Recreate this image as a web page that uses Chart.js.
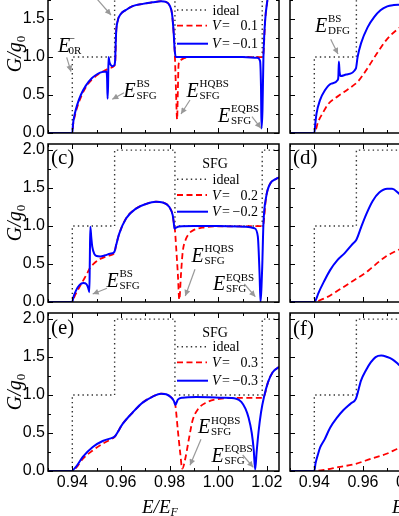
<!DOCTYPE html>
<html>
<head>
<meta charset="utf-8">
<script src="https://cdn.jsdelivr.net/npm/chart.js@4.4.0/dist/chart.umd.min.js"></script>
<style>
  html, body { margin: 0; padding: 0; background: #fff; }
  body { position: relative; width: 399px; height: 516px; overflow: hidden; }
  canvas { position: absolute; }
  #ov { position: absolute; left: 0; top: 0; pointer-events: none; }
  #ov text { font-family: "Liberation Serif", "Times New Roman", serif; fill: #000; }
</style>
</head>
<body>
<canvas id="pa" width="285" height="192" style="left:0;top:-29px"></canvas>
<canvas id="pb" width="285" height="192" style="left:242px;top:-29px"></canvas>
<canvas id="pc" width="285" height="192" style="left:0;top:140px"></canvas>
<canvas id="pd" width="285" height="192" style="left:242px;top:140px"></canvas>
<canvas id="pe" width="285" height="192" style="left:0;top:309px"></canvas>
<canvas id="pf" width="285" height="192" style="left:242px;top:309px"></canvas>
<svg id="ov" width="399" height="516">
  <defs>
    <marker id="ah" viewBox="0 0 10 10" refX="10" refY="5" markerUnits="userSpaceOnUse"
            markerWidth="7" markerHeight="6" orient="auto">
      <path d="M0,0 L10,5 L0,10 z" fill="#999"/>
    </marker>
  </defs>
</svg>
<script>
// ---------- data: [E/EF, G/g0] ----------
const xTickLabels = ["0.94", "0.96", "0.98", "1.00", "1.02"];
const yTickLabels = ["0.0", "0.5", "1.0", "1.5", "2.0"];

const idealL = [[0.93,0],[0.94,0],[0.94,1],[0.9574,1],[0.9574,2],[0.9822,2],[0.9822,1],[1.0181,1],[1.0181,2],[1.025,2]];
const idealR = [[0.93,0],[0.94,0],[0.94,1],[0.9573,1],[0.9573,2],[0.977,2]];

// (a) SFG, V = ±0.1
const aBlue = [[0.93,0],[0.94,0],[0.9403,0.12],[0.941,0.25],[0.942,0.37],[0.9435,0.50],[0.9455,0.62],[0.948,0.72],
  [0.9505,0.78],[0.9525,0.805],[0.954,0.81],[0.9543,0.72],[0.9545,0.45],[0.9547,0.62],[0.9549,1.0],[0.9553,0.93],
  [0.9558,0.895],[0.9565,0.88],[0.9572,0.89],[0.9576,0.95],[0.958,1.31],[0.9587,1.48],[0.960,1.57],[0.9621,1.62],
  [0.9648,1.67],[0.969,1.70],[0.973,1.72],[0.9765,1.735],[0.9785,1.725],[0.980,1.68],[0.981,1.57],[0.9817,1.31],
  [0.9821,1.09],[0.9826,1.0],[0.99,1.0],[1.0,1.0],[1.01,1.0],[1.016,0.99],[1.0172,0.95],[1.0176,0.6],[1.0178,0.06],
  [1.0182,0.3],[1.0186,1.0],[1.0193,1.48],[1.0202,1.74],[1.0215,2.0],[1.025,2.3]];
const aRed = [[0.93,0],[0.94,0],[0.9403,0.10],[0.941,0.22],[0.942,0.34],[0.9435,0.47],[0.9455,0.60],[0.948,0.70],
  [0.9505,0.77],[0.953,0.815],[0.9555,0.855],[0.9573,0.885],[0.9577,0.96],[0.958,1.31],[0.9587,1.48],[0.960,1.57],
  [0.9621,1.62],[0.9648,1.67],[0.969,1.70],[0.973,1.72],[0.9765,1.735],[0.9785,1.725],[0.980,1.68],[0.981,1.57],
  [0.9817,1.31],[0.9821,1.09],[0.9826,0.6],[0.9831,0.18],[0.9834,0.55],[0.9837,0.9],[0.9845,0.96],[0.986,0.985],
  [0.99,1.0],[1.0,1.0],[1.018,1.0],[1.0186,1.05],[1.0193,1.48],[1.0202,1.74],[1.0215,2.0],[1.025,2.3]];

// (b) DFG, V = ±0.1
const bBlue = [[0.93,0],[0.94,0],[0.9404,0.12],[0.9409,0.255],[0.9423,0.43],[0.9443,0.56],[0.947,0.65],[0.9497,0.70],
  [0.9499,0.75],[0.9501,0.94],[0.9504,0.80],[0.9508,0.75],[0.9531,0.77],[0.9571,0.85],[0.9578,1.0],[0.9592,1.18],
  [0.9619,1.39],[0.9646,1.525],[0.9672,1.615],[0.970,1.667],[0.9727,1.685],[0.9745,1.69],[0.977,1.68]];
const bRed = [[0.93,0],[0.94,0],[0.9416,0.15],[0.9436,0.27],[0.9457,0.38],[0.950,0.49],[0.954,0.58],[0.958,0.68],
  [0.962,0.86],[0.966,1.06],[0.970,1.24],[0.974,1.36],[0.977,1.43]];

// (c) SFG, V = ±0.2
const cBlue = [[0.93,0],[0.94,0],[0.9404,0.06],[0.9415,0.15],[0.943,0.225],[0.9445,0.25],[0.9458,0.235],[0.9465,0.19],
  [0.947,0.13],[0.9472,0.55],[0.9474,0.99],[0.9478,0.85],[0.9482,0.73],[0.9491,0.63],[0.950,0.605],[0.9515,0.60],
  [0.9535,0.615],[0.9555,0.635],[0.9573,0.66],[0.958,0.746],[0.9593,0.90],[0.9621,1.10],[0.9662,1.23],[0.9703,1.29],
  [0.9744,1.32],[0.9772,1.31],[0.9799,1.25],[0.9813,1.14],[0.9817,1.05],[0.982,0.965],[0.9827,0.98],[0.984,0.995],
  [0.99,1.0],[1.0,1.0],[1.0115,0.99],[1.0149,0.97],[1.0163,0.86],[1.017,0.38],[1.0174,0.0],[1.0178,0.2],
  [1.0181,0.46],[1.0186,1.03],[1.0197,1.38],[1.0214,1.56],[1.0238,1.62],[1.025,1.64]];
const cRed = [[0.93,0],[0.94,0],[0.9406,0.05],[0.9413,0.10],[0.943,0.20],[0.9445,0.285],[0.946,0.37],[0.9473,0.45],
  [0.949,0.51],[0.9514,0.565],[0.9535,0.595],[0.9555,0.615],[0.9573,0.645],[0.958,0.746],[0.9593,0.90],[0.9621,1.10],
  [0.9662,1.23],[0.9703,1.29],[0.9744,1.32],[0.9772,1.31],[0.9799,1.25],[0.9813,1.14],[0.9817,1.05],[0.9822,0.95],
  [0.9827,0.72],[0.9834,0.37],[0.984,0.03],[0.9847,0.37],[0.9854,0.66],[0.9866,0.82],[0.988,0.90],[0.9895,0.94],
  [0.9936,0.98],[1.0,0.995],[1.018,1.0],[1.0186,1.03],[1.0197,1.38],[1.0214,1.56],[1.0238,1.62],[1.025,1.64]];

// (d) DFG, V = ±0.2
const dBlue = [[0.93,0],[0.94,0],[0.9411,0.066],[0.9416,0.11],[0.9443,0.29],[0.9465,0.42],[0.9495,0.55],[0.9524,0.64],
  [0.9559,0.77],[0.9573,0.82],[0.9592,0.98],[0.9613,1.15],[0.964,1.33],[0.9667,1.44],[0.970,1.49],[0.972,1.49],
  [0.9744,1.44],[0.977,1.36]];
const dRed = [[0.93,0],[0.94,0],[0.942,0.02],[0.945,0.06],[0.9497,0.15],[0.9565,0.29],[0.9613,0.39],[0.9632,0.44],
  [0.969,0.59],[0.9742,0.68],[0.977,0.72]];

// (e) SFG, V = ±0.3
const eBlue = [[0.93,0],[0.94,0],[0.9405,0.02],[0.9415,0.053],[0.9443,0.185],[0.9484,0.317],[0.9525,0.395],
  [0.9566,0.439],[0.9573,0.45],[0.9607,0.62],[0.9648,0.77],[0.9689,0.90],[0.9731,0.98],[0.9765,1.018],[0.9786,1.01],
  [0.9806,0.97],[0.9818,0.92],[0.9824,0.87],[0.9834,0.94],[0.9854,0.965],[0.9909,0.975],[1.0019,0.965],
  [1.0074,0.952],[1.0095,0.91],[1.0112,0.82],[1.0125,0.70],[1.0138,0.50],[1.0146,0.28],[1.0152,0.02],[1.0158,0.25],
  [1.0166,0.52],[1.0176,0.77],[1.0188,0.97],[1.0205,1.17],[1.0224,1.30],[1.025,1.37]];
const eRed = [[0.93,0],[0.94,0],[0.9405,0.015],[0.9415,0.04],[0.9443,0.16],[0.9484,0.27],[0.9525,0.36],[0.9566,0.43],
  [0.9573,0.445],[0.9607,0.62],[0.9648,0.77],[0.9689,0.90],[0.9731,0.98],[0.9765,1.018],[0.9786,1.01],[0.9806,0.97],
  [0.9818,0.92],[0.9824,0.86],[0.9834,0.535],[0.9844,0.23],[0.9852,0.03],[0.9866,0.185],[0.9881,0.45],[0.9895,0.67],
  [0.9916,0.81],[0.995,0.90],[1.0005,0.95],[1.0088,0.962],[1.0178,0.962],[1.0188,0.98],[1.0205,1.17],[1.0224,1.30],
  [1.025,1.37]];

// (f) DFG, V = ±0.3
const fBlue = [[0.93,0],[0.94,0],[0.9405,0.10],[0.9416,0.23],[0.9424,0.31],[0.9443,0.42],[0.9465,0.57],[0.9495,0.71],
  [0.9519,0.80],[0.955,0.89],[0.9571,0.95],[0.9592,1.19],[0.9613,1.33],[0.9632,1.43],[0.9652,1.50],[0.9675,1.52],
  [0.970,1.50],[0.9721,1.47],[0.9744,1.41],[0.977,1.33]];
const fRed = [[0.93,0],[0.94,0],[0.945,0.02],[0.9497,0.05],[0.9565,0.09],[0.9632,0.16],[0.970,0.23],[0.974,0.29],
  [0.977,0.33]];

// ---------- chart helpers ----------
const pts = (arr) => arr.map(([x, y]) => ({ x, y }));
const isMajorX = (v) => Math.round(v * 100) % 2 === 0;
const isMajorY = (v) => Math.round(v * 4) % 2 === 0;
const tickFont = { family: '"Liberation Sans", Arial, sans-serif', size: 16 };

// box frame + inward ticks on all four sides
const frame = {
  id: "frame",
  afterDatasetsDraw(chart) {
    const { ctx, chartArea: a, scales: { x, y } } = chart;
    ctx.save();
    ctx.strokeStyle = "#000";
    ctx.lineWidth = 1;
    ctx.beginPath();
    x.ticks.forEach((t) => {
      const px = Math.round(x.getPixelForValue(t.value)) + 0.5;
      const len = isMajorX(t.value) ? 5 : 3;
      ctx.moveTo(px, a.bottom); ctx.lineTo(px, a.bottom - len);
      ctx.moveTo(px, a.top);    ctx.lineTo(px, a.top + len);
    });
    y.ticks.forEach((t) => {
      const py = Math.round(y.getPixelForValue(t.value)) + 0.5;
      const len = isMajorY(t.value) ? 5 : 3;
      ctx.moveTo(a.left, py);  ctx.lineTo(a.left + len, py);
      ctx.moveTo(a.right, py); ctx.lineTo(a.right - len, py);
    });
    ctx.stroke();
    ctx.lineWidth = 1.5;
    ctx.strokeRect(a.left, a.top, a.right - a.left, a.bottom - a.top);
    ctx.restore();
  },
};

function panel(id, blue, red, ideal, showX, showY) {
  return new Chart(document.getElementById(id), {
    type: "line",
    data: {
      datasets: [
        { data: pts(blue),  borderColor: "#0000ff", borderWidth: 2,   cubicInterpolationMode: "monotone" },
        { data: pts(red),   borderColor: "#ff0000", borderWidth: 1.8, borderDash: [6, 3.5], cubicInterpolationMode: "monotone" },
        { data: pts(ideal), borderColor: "#333",    borderWidth: 1.4, borderDash: [1.4, 3.2] },
      ],
    },
    options: {
      responsive: false,
      animation: false,
      events: [],
      elements: { point: { radius: 0 } },
      layout: { padding: { top: 4, right: 6, left: 0, bottom: 0 } },
      plugins: { legend: { display: false }, tooltip: { enabled: false } },
      scales: {
        x: {
          type: "linear", min: 0.93, max: 1.025,
          grid: { display: false, drawTicks: false }, border: { display: false },
          ticks: {
            display: showX, stepSize: 0.01, includeBounds: false, autoSkip: false, maxRotation: 0,
            padding: 2, color: "#000", font: tickFont,
            callback: (v) => (isMajorX(v) && xTickLabels.includes(v.toFixed(2)) ? v.toFixed(2) : ""),
          },
          afterFit: (s) => { s.height = 30; s.paddingLeft = 0; s.paddingRight = 0; },
        },
        y: {
          type: "linear", min: 0, max: 2.08,
          grid: { display: false, drawTicks: false }, border: { display: false },
          ticks: {
            display: showY, stepSize: 0.25, includeBounds: false, autoSkip: false,
            padding: 3, color: "#000", font: tickFont,
            callback: (v) => (isMajorY(v) && yTickLabels.includes(v.toFixed(1)) ? v.toFixed(1) : ""),
          },
          afterFit: (s) => { s.width = 48; s.paddingTop = 0; s.paddingBottom = 0; },
        },
      },
    },
    plugins: [frame],
  });
}

panel("pa", aBlue, aRed, idealL, false, true);
panel("pb", bBlue, bRed, idealR, false, false);
panel("pc", cBlue, cRed, idealL, false, true);
panel("pd", dBlue, dRed, idealR, false, false);
panel("pe", eBlue, eRed, idealL, true, true);
panel("pf", fBlue, fRed, idealR, true, false);

// ---------- annotations (svg text) ----------
const NS = "http://www.w3.org/2000/svg";
const ov = document.getElementById("ov");
function add(tag, attrs, text, parent = ov) {
  const e = document.createElementNS(NS, tag);
  for (const k in attrs) e.setAttribute(k, attrs[k]);
  if (text != null) e.textContent = text;
  parent.appendChild(e);
  return e;
}
function eLabel(x, y, sup, sub, dx = 13) {
  add("text", { x, y, "font-size": 20, "font-style": "italic" }, "E");
  add("text", { x: x + dx, y: y - 9.5, "font-size": 11 }, sup);
  add("text", { x: x + dx, y: y + 1.8, "font-size": 11 }, sub);
}
function arrow(x1, y1, x2, y2) {
  add("line", { x1, y1, x2, y2, stroke: "#999", "stroke-width": 1.2, "marker-end": "url(#ah)" });
}
function legend(rows, v, titleY) {
  const [yi, yr, yb] = rows;
  if (titleY) add("text", { x: 215, y: titleY, "font-size": 14, "text-anchor": "middle" }, "SFG");
  add("line", { x1: 177, y1: yi, x2: 208, y2: yi, stroke: "#333", "stroke-width": 1.4, "stroke-dasharray": "1.4 3.2" });
  add("text", { x: 212.5, y: yi + 4.5, "font-size": 14 }, "ideal");
  add("line", { x1: 177, y1: yr, x2: 207, y2: yr, stroke: "#ff0000", "stroke-width": 1.8, "stroke-dasharray": "6 3.5" });
  add("text", { x: 212, y: yr + 4.5, "font-size": 14, "font-style": "italic" }, "V");
  add("text", { x: 222, y: yr + 4.5, "font-size": 14 }, "=");
  add("text", { x: 258, y: yr + 4.5, "font-size": 14, "text-anchor": "end" }, v);
  add("line", { x1: 177, y1: yb, x2: 208, y2: yb, stroke: "#0000ff", "stroke-width": 2 });
  add("text", { x: 212, y: yb + 4.5, "font-size": 14, "font-style": "italic" }, "V");
  add("text", { x: 222, y: yb + 4.5, "font-size": 14 }, "=");
  add("text", { x: 258, y: yb + 4.5, "font-size": 14, "text-anchor": "end" }, "\u2212" + v);
}
function yTitle(cy) {
  const t = add("text", { transform: `translate(20.5,${cy}) rotate(-90)`, "font-size": 20, "text-anchor": "middle" });
  add("tspan", { "font-style": "italic" }, "G/g", t);
  add("tspan", { "font-size": 13, dy: 4 }, "0", t);
}
function xTitle(x) {
  const t = add("text", { x, y: 513, "font-size": 19, "font-style": "italic" });
  add("tspan", {}, "E/E", t);
  add("tspan", { "font-size": 12, dy: 3 }, "F", t);
}

legend([10, 25.7, 43.7], "0.1", null);
legend([179.3, 195, 211.7], "0.2", 168);
legend([346.7, 362.3, 380.7], "0.3", 336.7);

add("text", { x: 51, y: 164, "font-size": 21 }, "(c)");
add("text", { x: 293, y: 164, "font-size": 21 }, "(d)");
add("text", { x: 51, y: 334, "font-size": 21 }, "(e)");
add("text", { x: 293, y: 335, "font-size": 21 }, "(f)");

eLabel(58, 51.7, "\u2212", "0R", 10.5);
eLabel(123.5, 96.7, "BS", "SFG");
eLabel(186.5, 96.7, "HQBS", "SFG");
eLabel(218, 121.7, "EQBS", "SFG");
eLabel(315, 31.7, "BS", "DFG");
eLabel(106.5, 286.7, "BS", "SFG");
eLabel(191.5, 261.7, "HQBS", "SFG");
eLabel(213, 290, "EQBS", "SFG");
eLabel(198, 433.3, "HQBS", "SFG");
eLabel(211.5, 461.7, "EQBS", "SFG");

arrow(97, -1, 111, 15);
arrow(66.7, 57.3, 71, 71.7);
arrow(124, 92.7, 112.3, 99.3);
arrow(190, 100, 181, 114);
arrow(252, 116.7, 261, 128.3);
arrow(330.7, 39.3, 338, 54);
arrow(107, 288.3, 92.7, 294);
arrow(195, 269.3, 185.3, 296);
arrow(244.3, 284, 255.3, 296.7);
arrow(201, 439.3, 190, 465.3);
arrow(242.7, 455, 253.3, 467.3);

yTitle(54);
yTitle(223);
yTitle(392);
xTitle(142);
xTitle(392);
</script>
</body>
</html>
